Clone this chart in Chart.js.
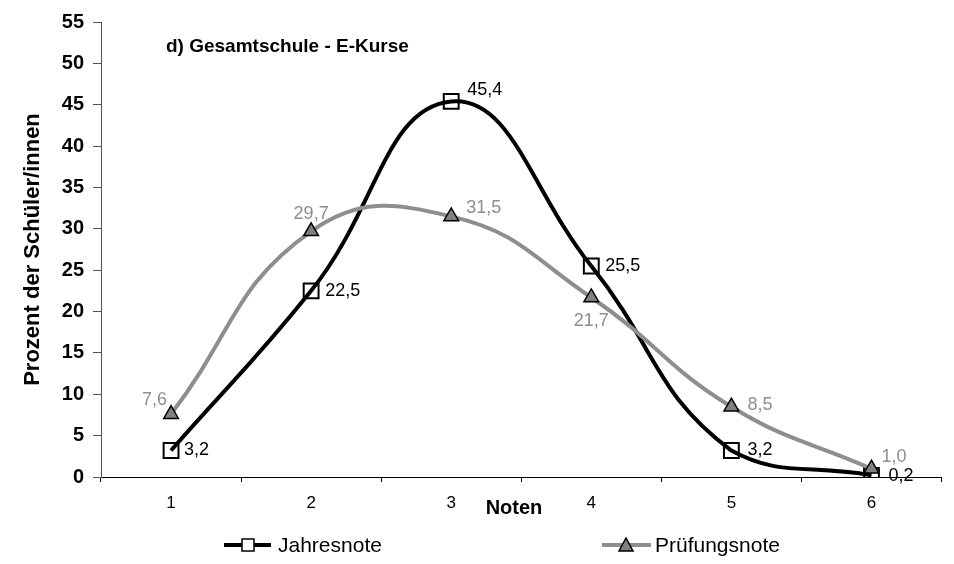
<!DOCTYPE html>
<html>
<head>
<meta charset="utf-8">
<script src="https://cdn.jsdelivr.net/npm/chart.js@4.4.1/dist/chart.umd.min.js"></script>
<style>
  html, body { margin: 0; padding: 0; background: #fff; }
  #wrap { width: 954px; height: 564px; }
</style>
</head>
<body>
<div id="wrap"><canvas id="chart"></canvas></div>
<script>
// --- data ---
const noten = ['1', '2', '3', '4', '5', '6'];
const jahresnote = [3.2, 22.5, 45.4, 25.5, 3.2, 0.2];
const pruefungsnote = [7.6, 29.7, 31.5, 21.7, 8.5, 1.0];
const yTicks = [0, 5, 10, 15, 20, 25, 30, 35, 40, 45, 50, 55];

const FONT = '"Liberation Sans", Arial, sans-serif';
const GRAY = '#8e8e8e';

const fmt = v => v.toFixed(1).replace('.', ',');

// label placement per point: [dx, dy, align]
const labelPos = {
    0: [[13, 0, 'left'], [14, 0, 'left'], [16, -11, 'left'], [14, 0, 'left'], [16, 0, 'left'], [17, 1, 'left']],
    1: [[-4, -14, 'right'], [0, -17, 'center'], [15, -8, 'left'], [0, 24, 'center'], [16, -2, 'left'], [10, -12, 'left']]
};

const decorPlugin = {
    id: 'decor',
    afterDatasetsDraw(chart) {
        const ctx = chart.ctx;
        ctx.save();
        ctx.textBaseline = 'middle';
        ctx.font = '18px ' + FONT;
        chart.data.datasets.forEach((ds, di) => {
            const meta = chart.getDatasetMeta(di);
            meta.data.forEach((pt, i) => {
                const [dx, dy, al] = labelPos[di][i];
                ctx.fillStyle = di === 0 ? '#000' : GRAY;
                ctx.textAlign = al;
                ctx.fillText(fmt(ds.data[i]), pt.x + dx, pt.y + dy);
            });
        });

        // title inside the plot
        ctx.fillStyle = '#000';
        ctx.textAlign = 'left';
        ctx.font = 'bold 19px ' + FONT;
        ctx.fillText('d) Gesamtschule - E-Kurse', 166, 47);

        // x axis title
        ctx.textAlign = 'center';
        ctx.font = 'bold 20px ' + FONT;
        ctx.fillText('Noten', 514, 508);

        // legend
        const ly = 545;
        ctx.lineWidth = 4;
        ctx.strokeStyle = '#000';
        ctx.beginPath(); ctx.moveTo(224, ly); ctx.lineTo(271, ly); ctx.stroke();
        ctx.fillStyle = '#fff';
        ctx.lineWidth = 1.5;
        ctx.fillRect(242, ly - 6, 12, 12);
        ctx.strokeRect(242, ly - 6, 12, 12);

        ctx.lineWidth = 4;
        ctx.strokeStyle = GRAY;
        ctx.beginPath(); ctx.moveTo(602, ly); ctx.lineTo(651, ly); ctx.stroke();
        ctx.fillStyle = '#808080';
        ctx.strokeStyle = '#000';
        ctx.lineWidth = 1.5;
        ctx.beginPath();
        ctx.moveTo(626, ly - 7); ctx.lineTo(633, ly + 6); ctx.lineTo(619, ly + 6); ctx.closePath();
        ctx.fill(); ctx.stroke();

        ctx.fillStyle = '#000';
        ctx.textAlign = 'left';
        ctx.font = '21px ' + FONT;
        ctx.fillText('Jahresnote', 278, ly + 1);
        ctx.fillText('Prüfungsnote', 655, ly + 1);
        ctx.restore();
    }
};

new Chart(document.getElementById('chart'), {
    type: 'line',
    data: {
        labels: noten,
        datasets: [
            {
                label: 'Jahresnote', data: jahresnote, order: 1,
                borderColor: '#000', borderWidth: 4, tension: 0.45,
                pointStyle: 'rect', pointRadius: 10.5, pointBorderWidth: 2,
                pointBackgroundColor: 'rgba(255,255,255,0)', pointBorderColor: '#000'
            },
            {
                label: 'Prüfungsnote', data: pruefungsnote, order: 0,
                borderColor: GRAY, borderWidth: 4, tension: 0.45,
                pointStyle: 'triangle', pointRadius: 8.5, pointBorderWidth: 1.5,
                pointBackgroundColor: '#808080', pointBorderColor: '#000'
            }
        ]
    },
    options: {
        responsive: true, maintainAspectRatio: false, animation: false,
        devicePixelRatio: 1,
        layout: { padding: { top: 22, right: 6, left: 0, bottom: 0 } },
        plugins: { legend: { display: false }, tooltip: { enabled: false } },
        scales: {
            x: {
                offset: true,
                grid: { offset: true, drawOnChartArea: false, tickLength: 5, color: '#000' },
                border: { color: '#000', width: 1 },
                ticks: { color: '#000', font: { family: FONT, size: 17 }, padding: 11 },
                afterFit(s) { s.height = 87; s.paddingLeft = 0; s.paddingRight = 0; }
            },
            y: {
                min: 0, max: 55,
                afterBuildTicks(s) { s.ticks = yTicks.map(v => ({ value: v })); },
                grid: { drawOnChartArea: false, tickLength: 8, color: '#555' },
                border: { color: '#555', width: 1 },
                ticks: { color: '#000', font: { family: FONT, size: 20, weight: 'bold' }, padding: 9 },
                title: {
                    display: true, text: 'Prozent der Schüler/innen', color: '#000',
                    font: { family: FONT, size: 22, weight: 'bold' }, padding: { top: 20, bottom: 0 }
                },
                afterFit(s) { s.width = 101; }
            }
        }
    },
    plugins: [decorPlugin]
});
</script>
</body>
</html>
